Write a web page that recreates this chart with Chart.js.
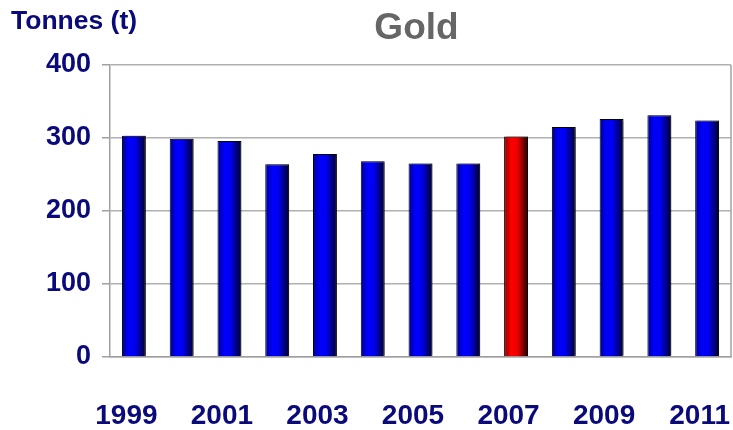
<!DOCTYPE html>
<html>
<head>
<meta charset="utf-8">
<title>Gold</title>
<script src="https://cdn.jsdelivr.net/npm/chart.js@4/dist/chart.umd.min.js"></script>
<style>
  html, body { margin: 0; padding: 0; background: #fff; }
  #wrap { width: 733px; height: 430px; position: relative; }
</style>
</head>
<body>
<div id="wrap"><canvas id="gold-chart" width="733" height="430"></canvas></div>
<script>
// Yearly gold production, tonnes
const years = ['1999', '2000', '2001', '2002', '2003', '2004', '2005', '2006', '2007', '2008', '2009', '2010', '2011'];
const tonnes = [303, 299, 296, 264, 278, 268, 265, 265, 302, 315, 326, 331, 324];
const highlightYear = '2007';
const yTicks = [0, 100, 200, 300, 400];

const navy = '#0a0a7a';
const barFrac = 0.5;

// horizontal shading so each bar looks like a cylinder
function barFill(c) {
  const hot = years[c.dataIndex] === highlightYear;
  const chart = c.chart;
  const xs = chart.scales.x;
  if (!xs || c.dataIndex === undefined) return hot ? '#ff0000' : '#0000ff';
  const cx = xs.getPixelForValue(c.dataIndex);
  const w = (xs.width / years.length) * barFrac;
  if (!isFinite(cx) || !isFinite(w) || w <= 0) return hot ? '#ff0000' : '#0000ff';
  const g = chart.ctx.createLinearGradient(cx - w / 2, 0, cx + w / 2, 0);
  if (hot) {
    g.addColorStop(0, '#900000');
    g.addColorStop(0.3, '#ff0000');
    g.addColorStop(0.55, '#f00000');
    g.addColorStop(1, '#200000');
  } else {
    g.addColorStop(0, '#000090');
    g.addColorStop(0.3, '#0000ff');
    g.addColorStop(0.55, '#0000f0');
    g.addColorStop(1, '#000028');
  }
  return g;
}

// title, unit label and right frame line
const decorations = {
  id: 'decorations',
  beforeDatasetsDraw(chart) {
    const ctx = chart.ctx;
    ctx.save();
    ctx.shadowColor = 'rgba(0,0,0,0.3)';
    ctx.shadowOffsetX = 2;
    ctx.shadowOffsetY = -1;
    ctx.shadowBlur = 1;
  },
  afterDatasetsDraw(chart) {
    chart.ctx.restore();
  },
  afterDraw(chart) {
    const ctx = chart.ctx;
    const a = chart.chartArea;
    ctx.save();
    ctx.strokeStyle = '#a0a0a0';
    ctx.lineWidth = 1.5;
    ctx.beginPath();
    ctx.moveTo(a.right, a.top);
    ctx.lineTo(a.right, a.bottom);
    ctx.stroke();

    ctx.fillStyle = '#666666';
    ctx.font = 'bold 37px "Liberation Sans", Arial, sans-serif';
    ctx.textAlign = 'center';
    ctx.textBaseline = 'middle';
    ctx.fillText('Gold', (a.left + a.right) / 2 - 4, 29);

    ctx.fillStyle = navy;
    ctx.font = 'bold 26.5px "Liberation Sans", Arial, sans-serif';
    ctx.textAlign = 'left';
    ctx.fillText('Tonnes (t)', 11, 22);
    ctx.restore();
  }
};

new Chart(document.getElementById('gold-chart'), {
  type: 'bar',
  data: {
    labels: years,
    datasets: [{
      data: tonnes,
      backgroundColor: barFill,
      borderColor: '#000000',
      borderWidth: 1,
      borderSkipped: 'bottom',
      barPercentage: barFrac,
      categoryPercentage: 1
    }]
  },
  options: {
    responsive: false,
    animation: false,
    devicePixelRatio: 1,
    layout: { padding: { top: 65, right: 2, left: 0, bottom: 0 } },
    plugins: {
      legend: { display: false },
      tooltip: { enabled: false }
    },
    scales: {
      x: {
        grid: { display: false, drawTicks: false },
        border: { color: '#a0a0a0', width: 1.5 },
        ticks: {
          autoSkip: false,
          maxRotation: 0,
          padding: 42,
          labelOffset: -7.5,
          color: navy,
          font: { family: '"Liberation Sans", Arial, sans-serif', size: 28, weight: 'bold' },
          callback: (v, i) => (i % 2 === 0 ? years[i] : '')
        },
        afterFit: s => { s.height = 73; s.paddingLeft = 0; s.paddingRight = 0; }
      },
      y: {
        min: 0,
        max: 400,
        afterBuildTicks: s => { s.ticks = yTicks.map(v => ({ value: v })); },
        grid: { color: '#b0b0b0', lineWidth: 1.5, tickLength: 8, tickColor: '#a0a0a0' },
        border: { color: '#a0a0a0', width: 1.5 },
        ticks: {
          padding: 11,
          color: navy,
          font: { family: '"Liberation Sans", Arial, sans-serif', size: 27, weight: 'bold' }
        },
        afterFit: s => { s.width = 110; s.paddingTop = 0; s.paddingBottom = 0; }
      }
    }
  },
  plugins: [decorations]
});
</script>
</body>
</html>
